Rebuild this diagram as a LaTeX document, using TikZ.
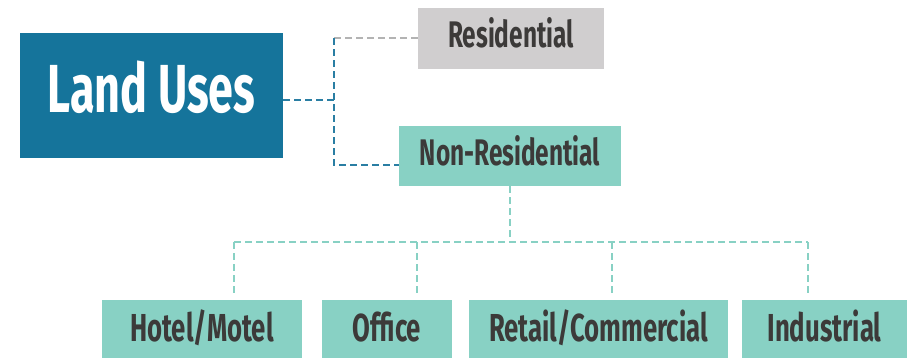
\documentclass[tikz,border=0pt]{standalone}
\usepackage{fontspec}
\newfontfamily\condfont[FakeStretch=0.66]{Fira Sans}
\definecolor{landblue}{HTML}{15749B}
\definecolor{resgray}{HTML}{D0CECF}
\definecolor{teal}{HTML}{88D1C4}
\definecolor{txtdark}{HTML}{3C3A39}
\definecolor{dashgray}{HTML}{B3B3B3}
\definecolor{dashblue}{HTML}{2A7EA3}
\tikzset{
  box/.style={inner sep=0pt, text depth=0pt, font=\condfont\bfseries, text=txtdark},
  tealbox/.style={box, fill=teal, text height=19.5pt, font=\condfont\bfseries\fontsize{39}{39}\selectfont},
  link/.style={line width=1.8pt, dash pattern=on 7pt off 4pt},
}
\begin{document}
\begin{tikzpicture}[x=1pt,y=-1pt]
\useasboundingbox (0,0) rectangle (907,357);
\clip (0,0) rectangle (907,357);
% main nodes
\node[box, fill=landblue, text=white, minimum width=263pt, minimum height=125pt,
      text height=34pt, font=\condfont\bfseries\fontsize{68}{68}\selectfont] (lu) at (151.5,95.5) {Land Uses};
\node[box, fill=resgray, minimum width=186pt, minimum height=61pt,
      text height=18.5pt, font=\condfont\bfseries\fontsize{37}{37}\selectfont] (res) at (511,38.5) {Residential};
\node[box, fill=teal, minimum width=222pt, minimum height=60pt,
      text height=18.5pt, font=\condfont\bfseries\fontsize{37}{37}\selectfont] (nr) at (510,156) {Non-Residential};
% bottom nodes
\node[tealbox, minimum width=200pt, minimum height=63pt] (hm) at (202,331.5) {Hotel/Motel};
\node[tealbox, minimum width=130pt, minimum height=63pt] (of) at (387,331.5) {Office};
\node[tealbox, minimum width=259pt, minimum height=63pt] (rc) at (598.5,331.5) {Retail/Commercial};
\node[tealbox, minimum width=165pt, minimum height=63pt] (in) at (824.5,331.5) {Industrial};
% junction coordinates
\coordinate (j1) at (334,100);
\coordinate (jtop) at (334,38);
\coordinate (jbot) at (334,165);
\coordinate (jh) at (510,242);
\coordinate (b1) at (234,242);
\coordinate (b2) at (417,242);
\coordinate (b3) at (612,242);
\coordinate (b4) at (808,242);
% connectors
\draw[link, dashblue] (lu.east |- j1) -- (j1);
\draw[link, dashgray] (jtop) -- (res.west |- jtop);
\draw[link, dashblue] (jtop) -- (jbot) -- (nr.west |- jbot);
\draw[link, teal] (nr.south) -- (jh);
\draw[link, teal] (b1) -- (b4);
\draw[link, teal, shorten >=5pt] (b1) -- (b1 |- hm.north);
\draw[link, teal, shorten >=5pt] (b2) -- (b2 |- of.north);
\draw[link, teal, shorten >=5pt] (b3) -- (b3 |- rc.north);
\draw[link, teal, shorten >=5pt] (b4) -- (b4 |- in.north);
\end{tikzpicture}
\end{document}
